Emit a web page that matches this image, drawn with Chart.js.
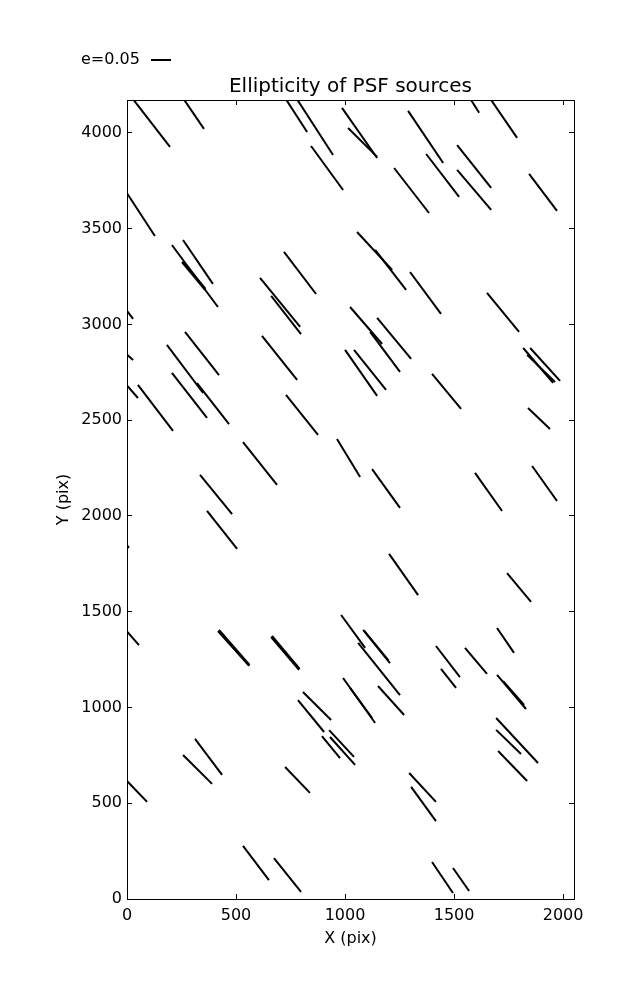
<!DOCTYPE html>
<html><head><meta charset="utf-8">
<script src="https://cdn.jsdelivr.net/npm/chart.js@4.4.1/dist/chart.umd.min.js"></script>
<style>html,body{margin:0;padding:0;background:#fff}#wrap{width:637px;height:1000px}</style>
</head><body><div id="wrap"><canvas id="c" width="637" height="1000"></canvas></div>
<script>
const chartTitle = 'Ellipticity of PSF sources';
const xTitle = 'X (pix)';
const yTitle = 'Y (pix)';
const keyLabel = 'e=0.05';
const xTicks = [0, 500, 1000, 1500, 2000];
const yTicks = [0, 500, 1000, 1500, 2000, 2500, 3000, 3500, 4000];
const xRange = [0, 2050];
const yRange = [0, 4172];

// whisker segments (start x, start y, end x, end y) in pixel-coordinates of the detector
const segX0 = [15,249,718,769,844,986,1014,1289,1567,1658,1514,1372,1225,1514,1844,-12,206,257,252,256,720,610,661,1055,1138,1298,1651,1023,1147,1115,1000,1041,1399,1817,1849,1835,1839,-14,266,183,321,206,619,-14,-14,50,729,532,963,335,1124,1596,1858,367,-14,1202,1743,982,1083,1088,1060,1417,1550,1697,1440,1697,1725,-14,417,422,661,665,807,991,1023,1151,784,894,927,931,1693,1693,1702,1294,1303,1399,1495,257,312,725,-9,532,674];
const segY0 = [4195,4195,4195,4195,3932,4131,4026,4115,4192,4192,3937,3890,3817,3807,3786,3706,3415,3441,3326,3330,3379,3243,3149,3483,3389,3274,3165,3091,3034,2961,2867,2867,2742,2877,2877,2841,2564,3091,2961,2893,2694,2747,2940,2856,2700,2684,2632,2386,2402,2214,2245,2225,2261,2026,1869,1802,1702,1483,1405,1400,1337,1321,1311,1415,1201,1170,1138,1415,1399,1405,1368,1374,1081,1154,1102,1112,1039,851,882,846,945,883,773,658,585,193,162,752,836,689,627,277,214];
const segX1 = [197,353,826,945,991,1147,1147,1450,1615,1789,1670,1523,1385,1670,1972,128,417,394,358,360,867,794,798,1216,1280,1440,1798,1170,1303,1252,1147,1188,1532,1954,1986,1963,1940,28,422,349,468,367,780,28,50,211,876,688,1069,482,1252,1720,1972,505,9,1335,1853,1092,1206,1200,1252,1527,1651,1775,1509,1830,1821,55,560,562,789,792,936,1138,1124,1271,904,977,1041,1046,1885,1807,1835,1417,1417,1495,1569,390,436,839,92,651,798];
const segY1 = [3927,4021,4005,3885,3702,3869,3875,3843,4105,3974,3713,3666,3582,3598,3593,3462,3091,3212,3180,3186,3159,2987,2950,3285,3180,3055,2961,2898,2820,2752,2627,2658,2559,2695,2705,2700,2454,3029,2736,2642,2480,2512,2710,2815,2616,2444,2423,2162,2204,2010,2042,2026,2078,1828,1833,1587,1551,1311,1232,1245,1065,1159,1175,1285,1102,992,1013,1326,1217,1222,1196,1202,935,919,945,961,872,736,742,700,710,757,616,507,407,31,42,601,648,554,507,99,37];

Chart.defaults.font.family = "'DejaVu Sans', sans-serif";
Chart.defaults.color = '#000';

const datasets = segX0.map((x0, i) => ({
  data: [{x: x0, y: segY0[i]}, {x: segX1[i], y: segY1[i]}],
  showLine: true, borderColor: '#000', borderWidth: 2,
  pointRadius: 0, pointHoverRadius: 0, fill: false, tension: 0
}));

const setTicks = vals => scale => { scale.ticks = vals.map(v => ({value: v})); };
const gridOpts = {drawOnChartArea: false, drawTicks: true, tickLength: -5, color: '#000', lineWidth: 1};
const borderOpts = {display: true, color: '#000', width: 1};

const keyPlugin = {
  id: 'whiskerKey',
  afterDraw(chart) {
    const ctx = chart.ctx;
    ctx.save();
    ctx.font = "16px 'DejaVu Sans'";
    ctx.fillStyle = '#000';
    ctx.textBaseline = 'middle';
    ctx.textAlign = 'left';
    ctx.fillText(keyLabel, 81, 60);
    ctx.strokeStyle = '#000';
    ctx.lineWidth = 2;
    ctx.beginPath();
    ctx.moveTo(151, 60);
    ctx.lineTo(171, 60);
    ctx.stroke();
    ctx.restore();
  }
};

new Chart(document.getElementById('c'), {
  type: 'scatter',
  data: {datasets},
  plugins: [keyPlugin],
  options: {
    responsive: false, animation: false, events: [],
    layout: {padding: 0},
    plugins: {
      legend: {display: false},
      tooltip: {enabled: false},
      title: {display: true, text: chartTitle, fullSize: false, color: '#000',
        font: {size: 20, weight: 'normal'}, padding: {top: 75, bottom: 1}}
    },
    scales: {
      x: {type: 'linear', axis: 'x', position: 'bottom', min: xRange[0], max: xRange[1],
        afterBuildTicks: setTicks(xTicks), afterFit: s => { s.height = 101; },
        grid: gridOpts, border: borderOpts,
        ticks: {padding: 12, font: {size: 16}, color: '#000', maxRotation: 0, autoSkip: false, callback: v => String(v)},
        title: {display: true, text: xTitle, color: '#000', font: {size: 16}, padding: {top: 0, bottom: 52}}},
      x2: {type: 'linear', axis: 'x', position: 'top', min: xRange[0], max: xRange[1],
        afterBuildTicks: setTicks(xTicks), afterFit: s => { s.height = 0; },
        grid: gridOpts, border: borderOpts, ticks: {display: false}},
      y: {type: 'linear', axis: 'y', position: 'left', min: yRange[0], max: yRange[1],
        afterBuildTicks: setTicks(yTicks), afterFit: s => { s.width = 127; },
        grid: gridOpts, border: borderOpts,
        ticks: {padding: 10, font: {size: 16}, color: '#000', autoSkip: false, callback: v => String(v)},
        title: {display: true, text: yTitle, color: '#000', font: {size: 16}, padding: {top: 54, bottom: 0}}},
      y2: {type: 'linear', axis: 'y', position: 'right', min: yRange[0], max: yRange[1],
        afterBuildTicks: setTicks(yTicks), afterFit: s => { s.width = 63; },
        grid: gridOpts, border: borderOpts, ticks: {display: false}}
    }
  }
});
</script>
</body></html>
